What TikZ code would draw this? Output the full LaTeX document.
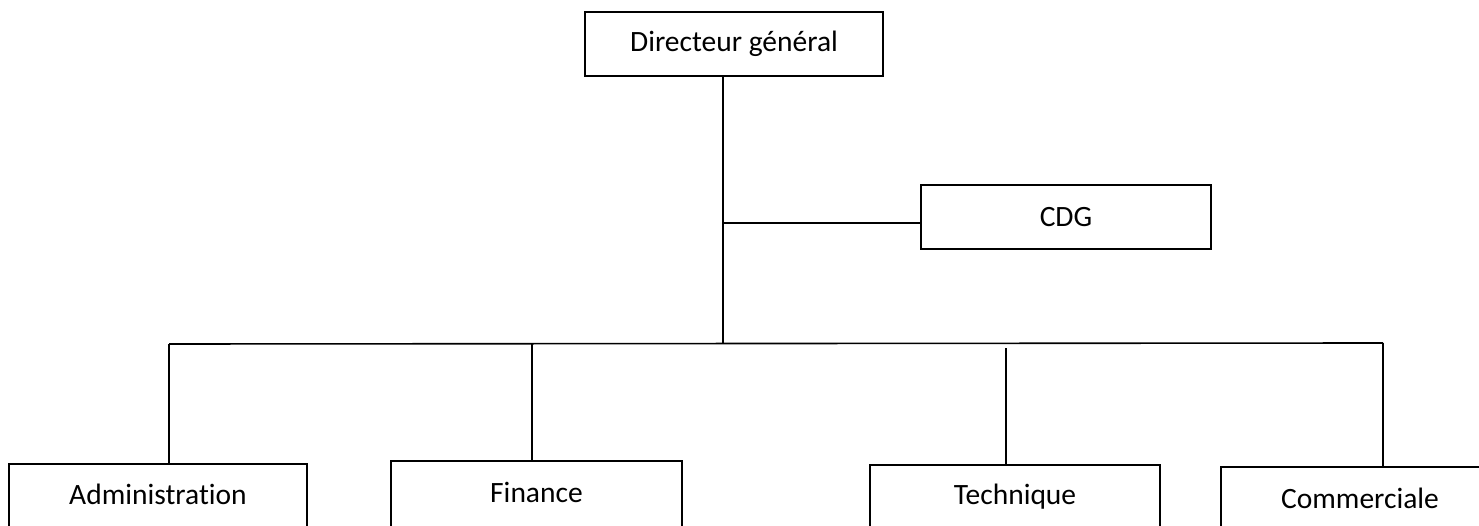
\documentclass[tikz,border=0pt]{standalone}
\usepackage{fontspec}
\setmainfont{Carlito}[Ligatures={NoCommon}]
\begin{document}
\begin{tikzpicture}[x=1pt,y=-1pt,
  box/.style={draw=black,line width=1.6pt,inner sep=0pt,fill=white,font=\fontsize{29.5}{35}\selectfont},
  link/.style={draw=black,line width=1.6pt}]
\useasboundingbox (0,0) rectangle (1479,526);
\clip (0,0) rectangle (1479,526);
% top boxes
\node[box,minimum width=298pt,minimum height=64pt] (dg) at (734,44) {Directeur général\hspace{17pt}};
\node[box,minimum width=290pt,minimum height=64pt] (cdg) at (1066,217) {CDG\hspace{14pt}};
% bottom boxes (baseline anchored, extend past bottom edge)
\node[box,anchor=base,minimum width=298pt,text height=40pt,text depth=40pt] (adm) at (158,504) {Administration\hspace{16pt}};
\node[box,anchor=base,minimum width=291pt,text height=41pt,text depth=42pt] (fin) at (536.5,502) {Finance\hspace{7pt}};
\node[box,anchor=base,minimum width=290pt,text height=39pt,text depth=40pt] (tech) at (1015,504) {Technique\hspace{10pt}};
\node[box,anchor=base,minimum width=278pt,text height=41pt,text depth=40pt] (com) at (1360,508) {Commerciale};
% connector points
\coordinate (j1) at (723,223);
\coordinate (j2) at (723,343);
\coordinate (bl) at (169,344);
\coordinate (br) at (1383,343);
\coordinate (bf) at (532,344);
\coordinate (bt) at (1006,348);
% connectors
\draw[link] (dg.south -| j2) -- (j2);
\draw[link] (j1) -- (j1 -| cdg.west);
\draw[link] (bl) -- (br);
\draw[link] (bl) -- (bl |- adm.north);
\draw[link] (bf) -- (bf |- fin.north);
\draw[link] (bt) -- (bt |- tech.north);
\draw[link] (br) -- (br |- com.north);
\end{tikzpicture}
\end{document}
